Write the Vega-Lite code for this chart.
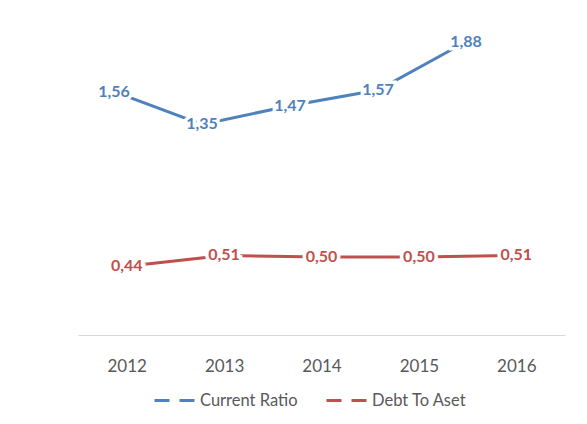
{
  "$schema": "https://vega.github.io/schema/vega-lite/v6.json",
  "width": 487,
  "height": 312,
  "autosize": "none",
  "padding": {"left": 78, "top": 23, "right": 22, "bottom": 89},
  "background": "white",
  "config": {
    "view": {"stroke": null},
    "font": "Lato",
    "locale": {"number": {"decimal": ",", "thousands": ".", "grouping": [3], "currency": ["", ""]}}
  },
  "datasets": {
    "dta": [
      {"year": "2012", "series": "Debt To Aset", "value": 0.44},
      {"year": "2013", "series": "Debt To Aset", "value": 0.51},
      {"year": "2014", "series": "Debt To Aset", "value": 0.50},
      {"year": "2015", "series": "Debt To Aset", "value": 0.50},
      {"year": "2016", "series": "Debt To Aset", "value": 0.51}
    ],
    "cr": [
      {"year": "2012", "series": "Current Ratio", "value": 1.56},
      {"year": "2013", "series": "Current Ratio", "value": 1.35},
      {"year": "2014", "series": "Current Ratio", "value": 1.47},
      {"year": "2015", "series": "Current Ratio", "value": 1.57},
      {"year": "2016", "series": "Current Ratio", "value": 1.88}
    ]
  },
  "encoding": {
    "y": {"field": "value", "type": "quantitative", "scale": {"domain": [0, 2]}, "axis": null},
    "color": {
      "field": "series", "type": "nominal",
      "scale": {"domain": ["Current Ratio", "Debt To Aset"], "range": ["#4F81BD", "#C0504D"]},
      "legend": {
        "title": null, "orient": "none", "direction": "horizontal", "legendX": 75, "legendY": 356,
        "symbolType": "stroke", "symbolDash": [15, 10], "symbolStrokeWidth": 3, "symbolSize": 1600,
        "labelFontSize": 16.5, "labelColor": "#595959", "labelFont": "Lato",
        "columnPadding": 22, "labelOffset": 4
      }
    }
  },
  "layer": [
    {
      "data": {"name": "dta"},
      "encoding": {
        "x": {
          "field": "year", "type": "ordinal",
          "scale": {"type": "point", "padding": 0.5},
          "axis": {
            "title": null, "labelAngle": 0, "ticks": false, "grid": false,
            "domainColor": "#d9d9d9", "domainWidth": 1,
            "labelFontSize": 17, "labelColor": "#595959", "labelPadding": 23, "labelFont": "Lato"
          }
        }
      },
      "layer": [
        {"mark": {"type": "line", "strokeWidth": 3}},
        {"mark": {"type": "text", "fontSize": 16, "fontWeight": "bold", "stroke": "white", "strokeWidth": 7, "fill": "white"},
         "encoding": {"text": {"field": "value", "type": "quantitative", "format": ".2f"}, "color": {"value": "white"}}},
        {"mark": {"type": "text", "fontSize": 16, "fontWeight": "bold"},
         "encoding": {"text": {"field": "value", "type": "quantitative", "format": ".2f"}}}
      ]
    },
    {
      "data": {"name": "cr"},
      "encoding": {
        "x": {
          "field": "year", "type": "ordinal",
          "scale": {"type": "point", "padding": 0.767, "align": 0.267},
          "axis": null
        }
      },
      "layer": [
        {"mark": {"type": "line", "strokeWidth": 3}},
        {"mark": {"type": "text", "fontSize": 16, "fontWeight": "bold", "stroke": "white", "strokeWidth": 7, "fill": "white"},
         "encoding": {"text": {"field": "value", "type": "quantitative", "format": ".2f"}, "color": {"value": "white"}}},
        {"mark": {"type": "text", "fontSize": 16, "fontWeight": "bold"},
         "encoding": {"text": {"field": "value", "type": "quantitative", "format": ".2f"}}}
      ]
    }
  ],
  "resolve": {"scale": {"x": "independent"}}
}
